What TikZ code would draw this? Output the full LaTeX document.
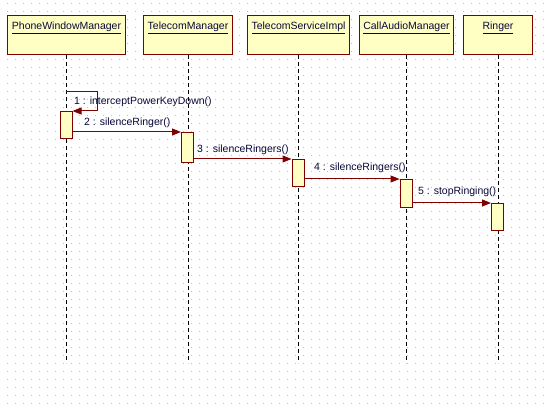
\documentclass[tikz,border=0pt]{standalone}
\usepackage{fontspec}
\setmainfont{Liberation Sans}
\usetikzlibrary{arrows.meta,positioning}
\definecolor{umlred}{RGB}{128,0,0}
\definecolor{umlfill}{RGB}{255,255,196}
\definecolor{umlink}{RGB}{8,8,56}
\definecolor{griddot}{RGB}{190,190,190}

\begin{document}
\begin{tikzpicture}[
  x=1pt, y=-1pt,
  font=\fontsize{10.5}{12}\selectfont,
  head/.style={draw=umlred, fill=umlfill, line width=1pt, minimum height=39pt, inner sep=0pt, anchor=north west},
  title/.style={text=umlink, inner sep=0pt},
  lifeline/.style={line width=1pt, dash pattern=on 4pt off 3pt},
  act/.style={draw=umlred, fill=umlfill, line width=1pt, minimum width=12pt, inner sep=0pt, anchor=north},
  msg/.style={-{Triangle[length=9pt,width=7pt]}, umlred, line width=1pt},
  call/.style={text=umlink, anchor=west, inner sep=0pt}
]
\useasboundingbox (0,0) rectangle (550,409);
\fill[white] (0,0) rectangle (550,409);

% dotted canvas
\foreach \i in {0,...,67}
  \foreach \j in {0,...,50}
    \fill[griddot] (7+8*\i,3+8*\j) rectangle ++(1,1);

% object heads
\node[head, minimum width=118pt] (pwm) at (7,15) {};
\node[head, minimum width=89pt] (tm) at (143,15) {};
\node[head, minimum width=102pt] (tsi) at (247,15) {};
\node[head, minimum width=94pt] (cam) at (359,15) {};
\node[head, minimum width=69pt] (ringer) at (463,15) {};

\node[title, below=7pt of pwm.north] {\underline{PhoneWindowManager}};
\node[title, below=7pt of tm.north] {\underline{TelecomManager}};
\node[title, below=7pt of tsi.north] {\underline{TelecomServiceImpl}};
\node[title, below=7pt of cam.north] {\underline{CallAudioManager}};
\node[title, below=7pt of ringer.north] {\underline{Ringer}};

% lifelines
\coordinate (bottom) at (0,363);
\draw[lifeline] (pwm.south) -- (pwm.south |- bottom);
\draw[lifeline] (tm.south) -- (tm.south |- bottom);
\draw[lifeline] (tsi.south) -- (tsi.south |- bottom);
\draw[lifeline] (cam.south) -- (cam.south |- bottom);
\draw[lifeline] (ringer.south) -- (ringer.south |- bottom);

% activations
\node[act, minimum height=27pt] (act1) at (66,111) {};
\node[act, minimum height=30pt] (act2) at (187.5,132) {};
\node[act, minimum height=27pt] (act3) at (298,159) {};
\node[act, minimum height=28pt] (act4) at (406,179) {};
\node[act, minimum height=27pt] (act5) at (497.5,203) {};

% messages
\coordinate (selfcall) at (66,92);
\draw[msg] (selfcall) -- ++(31,0) |- (act1.north east);
\draw[msg] (act2.north west -| act1.east) -- (act2.north west);
\draw[msg] (act3.north west -| act2.east) -- (act3.north west);
\draw[msg] (act4.north west -| act3.east) -- (act4.north west);
\draw[msg] (act5.north west -| act4.east) -- (act5.north west);

\node[call] (m1) at (74,102) {1 : interceptPowerKeyDown()};
\node[call] (m2) at (84,123) {2 : silenceRinger()};
\node[call] (m3) at (197,150) {3 : silenceRingers()};
\node[call] (m4) at (314,168) {4 : silenceRingers()};
\node[call] (m5) at (418,192) {5 : stopRinging()};
\end{tikzpicture}
\end{document}
